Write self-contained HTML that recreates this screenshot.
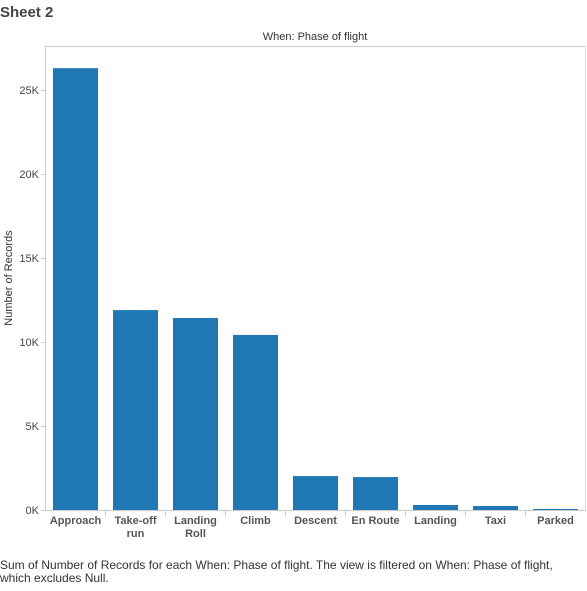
<!DOCTYPE html>
<html><head><meta charset="utf-8"><style>
body{margin:0;width:587px;height:586px;background:#fff;font-family:"Liberation Sans",sans-serif;overflow:hidden}
</style></head><body>
<svg width="587" height="586">
<text x="0" y="17" font-size="15" font-weight="bold" fill="#444">Sheet 2</text>
<text x="315" y="40" font-size="11" fill="#333" text-anchor="middle">When: Phase of flight</text>
<line x1="45" y1="46.5" x2="586" y2="46.5" stroke="#ccc"/>
<line x1="585.5" y1="46" x2="585.5" y2="510" stroke="#ddd"/>
<line x1="45.5" y1="46" x2="45.5" y2="510" stroke="#ccc"/>
<line x1="45" y1="510.5" x2="586" y2="510.5" stroke="#ccc"/>
<text transform="translate(12,278) rotate(-90)" font-size="11" fill="#333" text-anchor="middle">Number of Records</text>
<g id="ticks"></g><g id="bars"></g><g id="xl"></g>
<text x="0" y="569" font-size="12" fill="#333">Sum of Number of Records for each When: Phase of flight. The view is filtered on When: Phase of flight,</text>
<text x="0" y="582" font-size="12" fill="#333">which excludes Null.</text>
</svg>
<script>
const categories=["Approach","Take-off\nrun","Landing\nRoll","Climb","Descent","En Route","Landing","Taxi","Parked"];
const values=[26300,11900,11430,10420,2020,1960,300,240,60];
const tickValues=[0,5000,10000,15000,20000,25000];
const tickLabels=["0K","5K","10K","15K","20K","25K"];
const NS="http://www.w3.org/2000/svg";
const y=v=>510-v*16.8/1000;
const x=i=>53+i*60;
function mk(t,a,p){const e=document.createElementNS(NS,t);for(const k in a)e.setAttribute(k,a[k]);p.appendChild(e);return e;}
const tg=document.getElementById('ticks');
tickValues.forEach((v,i)=>{
 const l=mk('line',{x1:41,x2:45,y1:y(v)+.5,y2:y(v)+.5,stroke:'#ccc'},tg);
 
 
 const t=mk('text',{x:39,y:y(v)+4,'font-size':11,fill:'#444','text-anchor':'end'},tg);
 t.textContent=tickLabels[i];
 
 
});
const bg=document.getElementById('bars'),xg=document.getElementById('xl');
values.forEach((v,i)=>{
 const r=mk('rect',{x:x(i),y:y(v),width:45,height:510-y(v),fill:'#1f77b4'},bg);
 
 
 if(i>0){const s=mk('line',{x1:x(i)-7.5,x2:x(i)-7.5,y1:511,y2:516,stroke:'#ccc'},xg);
 
 }
 categories[i].split('\n').forEach((ln,j)=>{
  const t=mk('text',{x:x(i)+22.5,y:524+j*13,'font-size':11,'font-weight':'bold',fill:'#555','text-anchor':'middle'},xg);
  t.textContent=ln;
  
  
 });
});
</script>
</body></html>
